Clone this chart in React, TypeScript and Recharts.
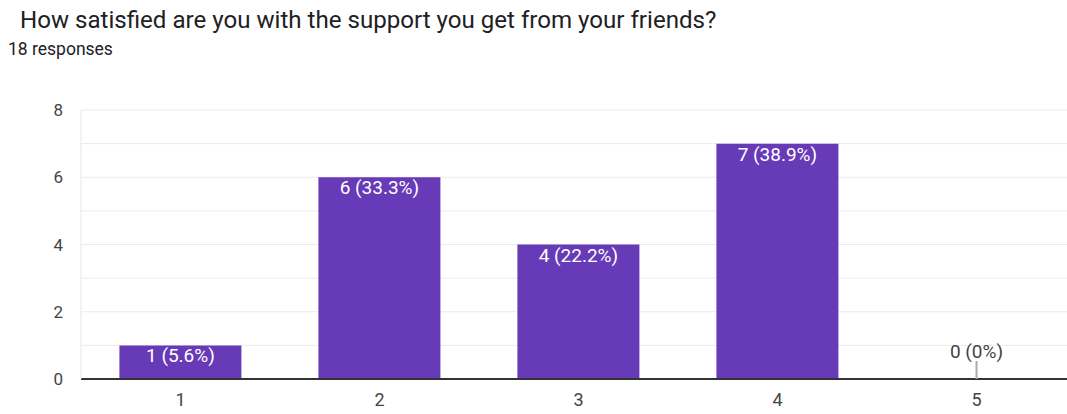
import React from "react";
import { BarChart, Bar, XAxis, YAxis, CartesianGrid, LabelList, ReferenceDot } from "recharts";

const categories = ["1", "2", "3", "4", "5"];
const counts = [1, 6, 4, 7, 0];
const yTicks = [0, 2, 4, 6, 8];
const gridValues = [0, 1, 2, 3, 4, 5, 6, 7, 8];
const title = "How satisfied are you with the support you get from your friends?";
const subtitle = "18 responses";

const total = counts.reduce((a, b) => a + b, 0);
const fmtLabel = (v: number) =>
  `${v} (${total ? Math.round((v / total) * 1000) / 10 : 0}%)`;
const data = categories.map((c, i) => ({
  name: c,
  value: counts[i],
  label: fmtLabel(counts[i]),
}));

const FONT = "Roboto, 'Noto Sans', Arial, sans-serif";

const renderLabel = (props: any) => {
  const { x, y, width, value } = props;
  if (!value) return null;
  const cx = Number(x) + Number(width) / 2;
  return (
    <text x={cx} y={Number(y) + 17} textAnchor="middle" fill="#ffffff" fontSize={19} fontFamily={FONT}>
      {fmtLabel(Number(value))}
    </text>
  );
};

const ZeroMarker = (text: string) => (props: any) => {
  const { cx, cy } = props;
  return (
    <g>
      <line x1={cx} x2={cx} y1={cy - 18} y2={cy} stroke="#aaaaaa" strokeWidth={2} />
      <text x={cx} y={cy - 21} textAnchor="middle" fill="#444444" fontSize={19} fontFamily={FONT}>
        {text}
      </text>
    </g>
  );
};

export default function App() {
  return (
    <div style={{ position: "fixed", left: 0, top: 0, width: 1067, height: 414, overflow: "hidden", background: "#fff" }}>
      <div style={{ position: "absolute", left: 20, top: 6, fontFamily: FONT, fontSize: 24.1, color: "#202124", whiteSpace: "nowrap" }}>
        {title}
      </div>
      <div style={{ position: "absolute", left: 8, top: 39, fontFamily: FONT, fontSize: 17.5, color: "#202124", whiteSpace: "nowrap" }}>
        {subtitle}
      </div>
      <div style={{ position: "absolute", left: 0, top: 0 }}>
        <BarChart
          width={1090}
          height={414}
          data={data}
          margin={{ top: 110, right: 14, bottom: 5, left: 0 }}
          barCategoryGap="19.3%"
        >
          <CartesianGrid
            vertical={false}
            stroke="#ebebeb"
            horizontalCoordinatesGenerator={(args: any) => {
              const { yAxis, offset } = args;
              if (yAxis && typeof yAxis.scale === "function") {
                return gridValues.map((v) => yAxis.scale(v));
              }
              return gridValues.map((v) => offset.top + offset.height * (1 - v / 8));
            }}
          />
          <XAxis
            dataKey="name"
            tickLine={false}
            axisLine={{ stroke: "#333333", strokeWidth: 2 }}
            tick={{ fill: "#444444", fontSize: 18, fontFamily: FONT }}
            tickMargin={8}
            height={30}
          />
          <YAxis
            domain={[0, 8]}
            ticks={yTicks}
            width={81}
            tickLine={false}
            axisLine={{ stroke: "#e6e6e6" }}
            tick={{ fill: "#444444", fontSize: 17, fontFamily: FONT }}
            tickMargin={12}
          />
          <Bar dataKey="value" fill="#673ab7" isAnimationActive={false}>
            <LabelList dataKey="value" content={renderLabel} />
          </Bar>
          {data
            .filter((d) => d.value === 0)
            .map((d) => (
              <ReferenceDot
                key={d.name}
                x={d.name}
                y={d.value}
                r={0}
                shape={ZeroMarker(d.label)}
              />
            ))}
        </BarChart>
      </div>
    </div>
  );
}
